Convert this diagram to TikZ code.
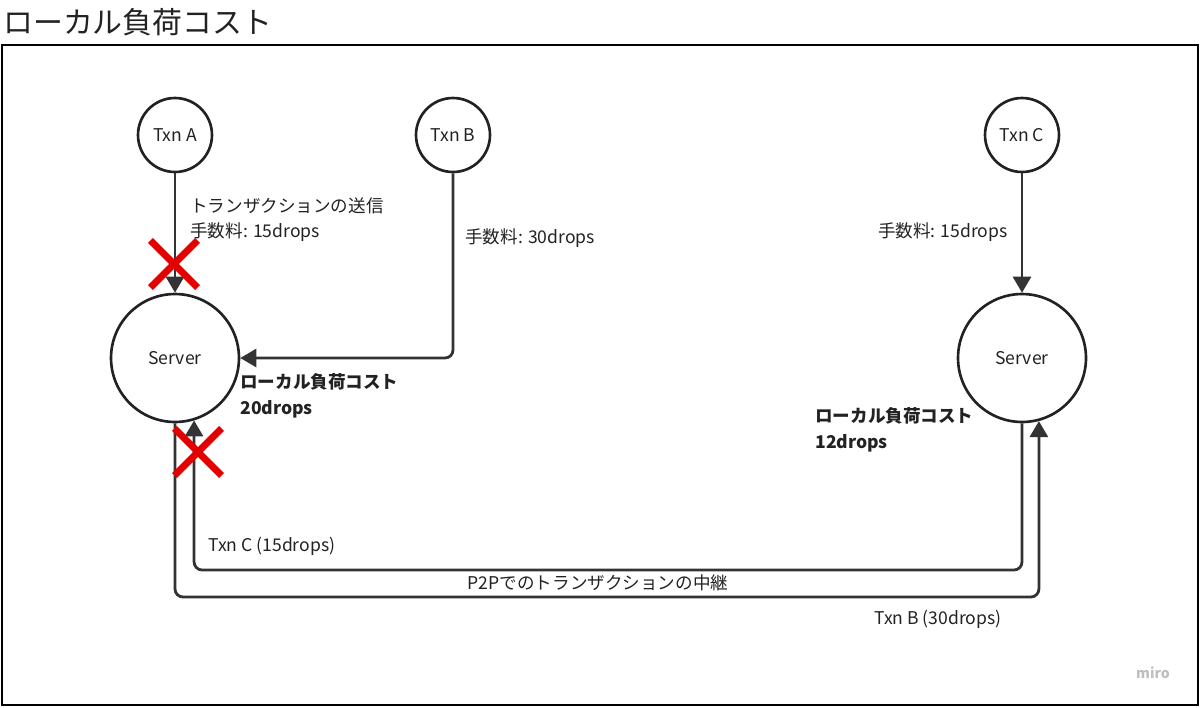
\documentclass[tikz,border=0pt]{standalone}
\usepackage{fontspec}
\setmainfont{Noto Sans CJK JP}
\usepackage{tikz}
\usetikzlibrary{arrows.meta,positioning,calc,shapes.misc}
\definecolor{figline}{RGB}{51,51,51}
\definecolor{figtext}{RGB}{34,34,34}
\definecolor{figred}{RGB}{226,0,0}
\definecolor{figmark}{RGB}{190,190,190}
\tikzset{
  txnnode/.style={circle, draw=figtext, line width=1.5pt, minimum size=1.48cm, inner sep=0pt, font=\fontsize{10}{12}\selectfont, text=figtext},
  servernode/.style={circle, draw=figtext, line width=1.5pt, minimum size=2.56cm, inner sep=0pt, font=\fontsize{10}{12}\selectfont, text=figtext},
  link/.style={-{Triangle[length=0.32cm, width=0.36cm]}, draw=figline, line width=1.6pt, rounded corners=0.16cm},
  nopass/.style={cross out, draw=figred, line width=4pt, minimum size=0.8cm, inner sep=0pt},
  figlabel/.style={inner sep=0pt, font=\fontsize{10}{14.2}\selectfont, text=figtext, align=left},
  costlabel/.style={inner sep=0pt, font=\fontsize{10}{14.6}\selectfont\bfseries, text=figtext, align=left},
  figtitle/.style={inner sep=0pt, font=\fontsize{17}{20}\selectfont, text=figtext}
}
\begin{document}
\begin{tikzpicture}[x=0.02cm,y=-0.02cm]
  \useasboundingbox (0,0) rectangle (1200,707);
  \node[figtitle, anchor=west] (title) at (3,22) {ローカル負荷コスト};
  \draw[black, line width=1.2pt] (2,45) rectangle (1198,705);

  % transactions and servers
  \node[txnnode] (txnA) at (175,135) {Txn A};
  \node[txnnode] (txnB) at (453,135) {Txn B};
  \node[txnnode] (txnC) at (1022,135) {Txn C};
  \node[servernode] (srvL) at (175,358) {Server};
  \node[servernode] (srvR) at (1022,358) {Server};

  % sending
  \draw[link] (txnA) -- (srvL);
  \draw[link] (txnB.south) |- (srvL.east);
  \draw[link] (txnC) -- (srvR);
  \node[figlabel, anchor=west] (sendA) at (190,220) {トランザクションの送信\\手数料: 15drops};
  \node[figlabel, anchor=west] (feeB) at (465,238) {手数料: 30drops};
  \node[figlabel, anchor=east] (feeC) at (1008,232) {手数料: 15drops};

  % relay
  \coordinate (relayB) at (600,597);
  \coordinate (relayC) at (600,570);
  \draw[link] (srvL.south) |- (relayB) -| (srvR.-75.5);
  \draw[link] (srvR.south) |- (relayC) -| (srvL.-73.7);
  \node[figlabel, anchor=west] (relayClabel) at (208,546) {Txn C (15drops)};
  \node[figlabel] (relaylabel) at (598,583) {P2Pでのトランザクションの中継};
  \node[figlabel] (relayBlabel) at (938,619) {Txn B (30drops)};

  % local load cost
  \node[costlabel, anchor=west] (costL) at (240,396) {ローカル負荷コスト\\20drops};
  \node[costlabel, anchor=west] (costR) at (815,430) {ローカル負荷コスト\\12drops};

  % rejected
  \node[nopass] (rejA) at (174,264) {};
  \node[nopass] (rejC) at (198,452) {};

  \node[inner sep=0pt, font=\fontsize{8}{10}\selectfont\bfseries, text=figmark] (brand) at (1153,673) {miro};
\end{tikzpicture}
\end{document}
